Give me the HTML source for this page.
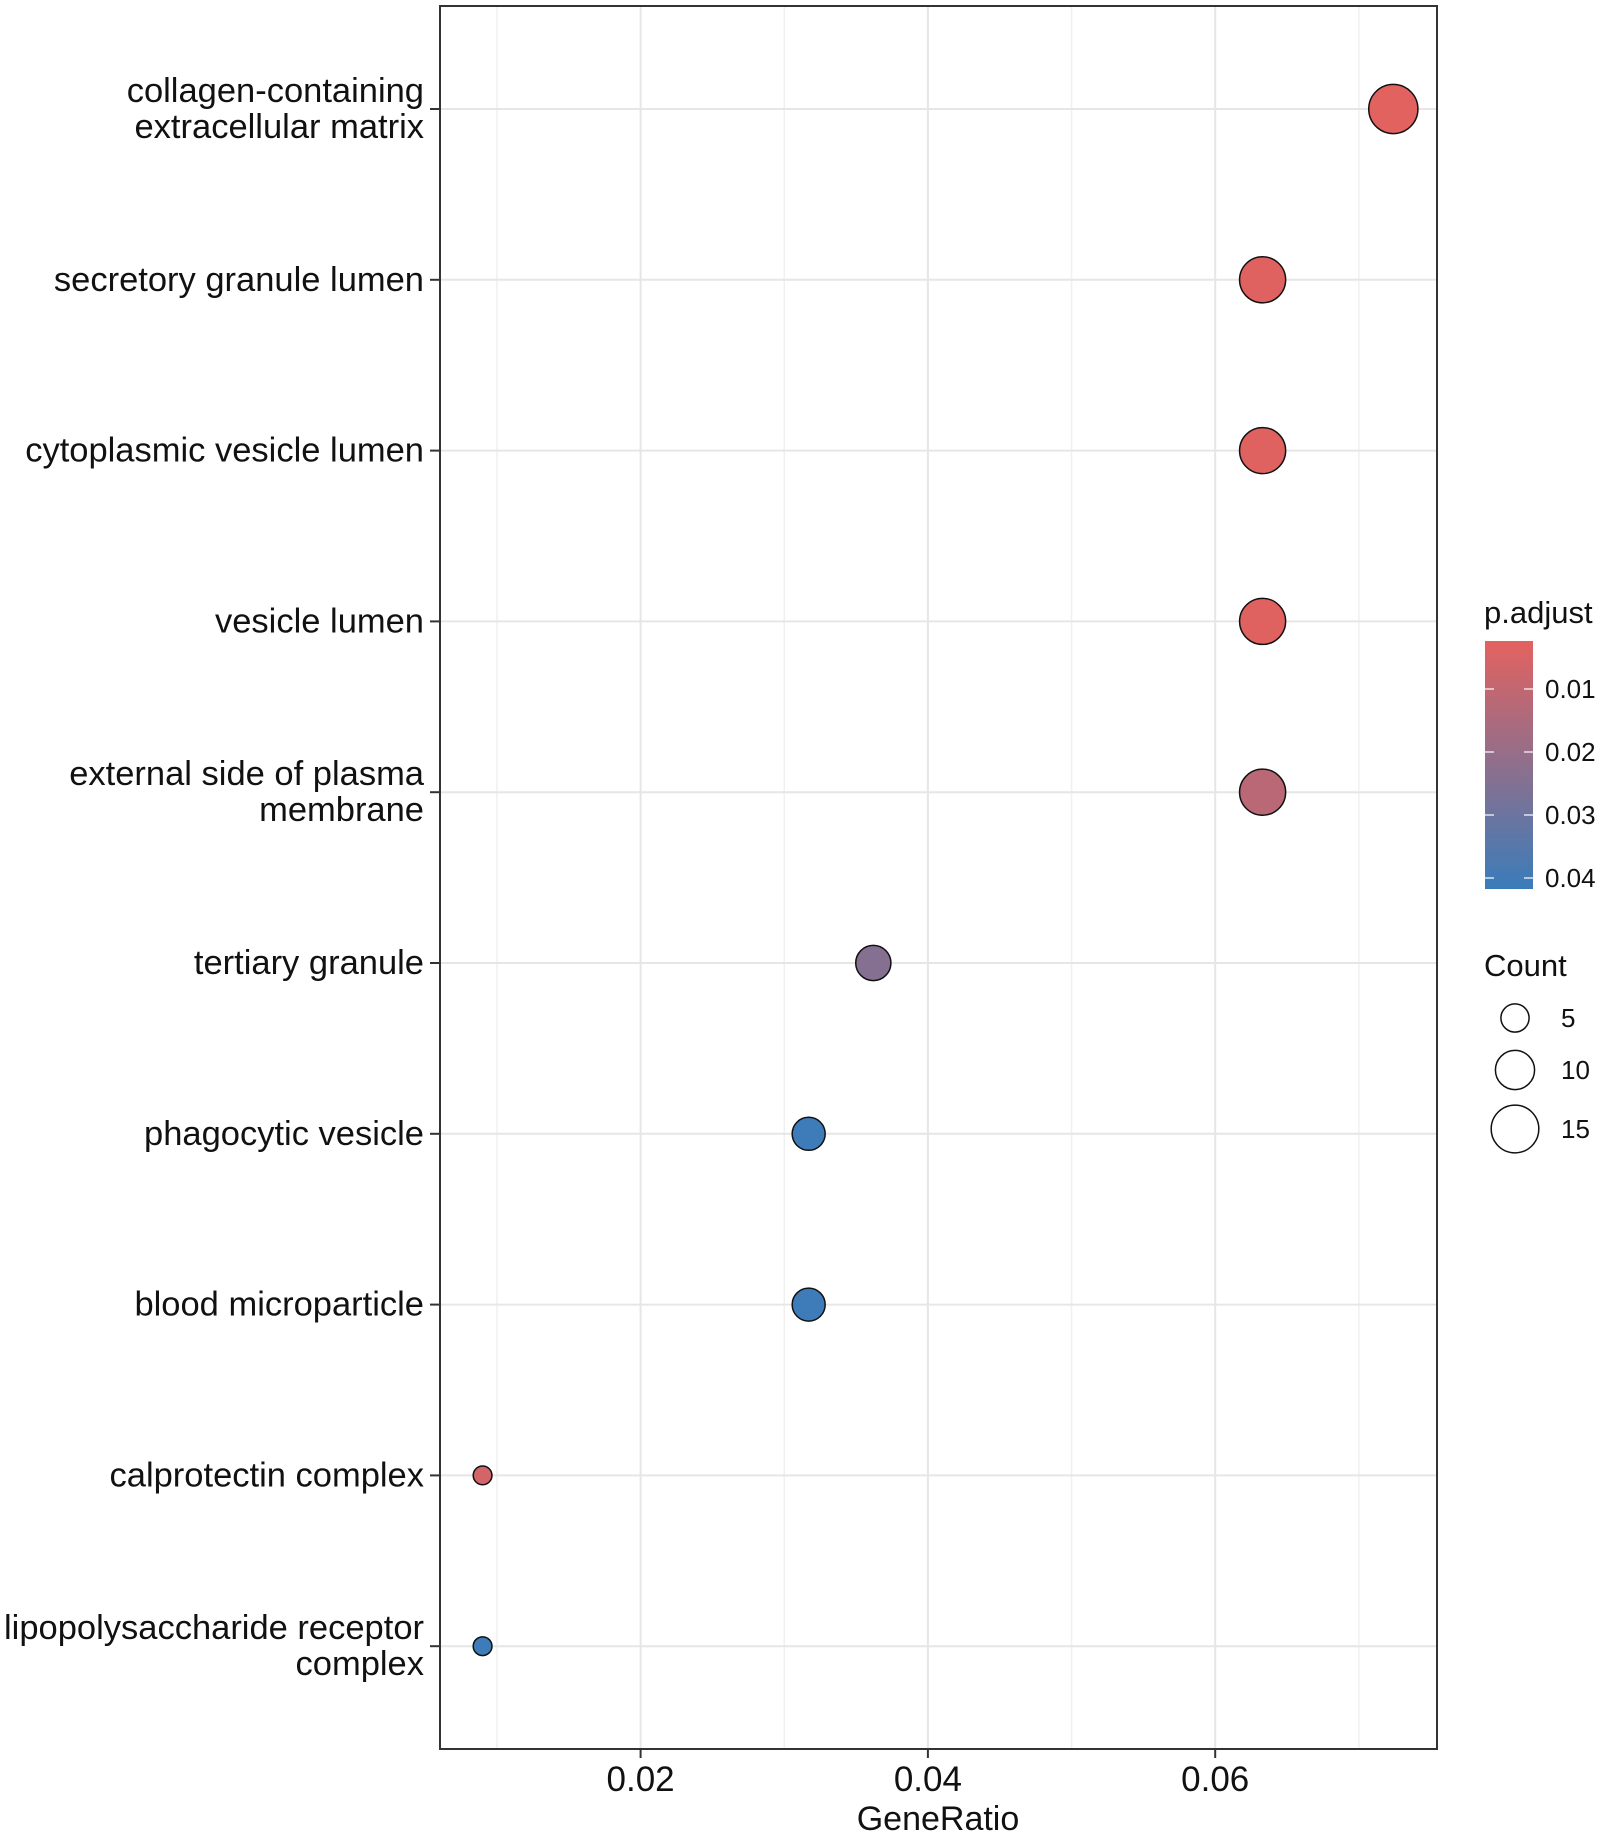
<!DOCTYPE html>
<html><head><meta charset="utf-8"><style>
body{margin:0;background:#fff}
svg{display:block;font-family:"Liberation Sans",Arial,sans-serif}
</style></head><body>
<svg id="chart" width="1600" height="1832" viewBox="0 0 1600 1832">
<defs><linearGradient id="grad" x1="0" y1="0" x2="0" y2="1">
<stop offset="0" stop-color="#E3625F"/><stop offset="1" stop-color="#3A7CBA"/></linearGradient></defs>
<g id="grid"></g><g id="labels"></g><g id="pts"></g>
<rect x="440" y="6" width="997" height="1743" fill="none" stroke="#333" stroke-width="2"/>
<g id="xaxis"></g>
<text x="938" y="1830" font-size="34" text-anchor="middle" fill="#111">GeneRatio</text>
<text x="1484" y="623" font-size="31" fill="#111">p.adjust</text>
<rect x="1485" y="641" width="48" height="248" fill="url(#grad)"/>
<g id="cleg"></g>
<text x="1484" y="976" font-size="31" fill="#111">Count</text>
<g id="sleg"></g>
</svg>
<script>
const categories=["collagen-containing|extracellular matrix","secretory granule lumen","cytoplasmic vesicle lumen","vesicle lumen","external side of plasma|membrane","tertiary granule","phagocytic vesicle","blood microparticle","calprotectin complex","lipopolysaccharide receptor|complex"];
const geneRatio=[0.0724,0.0633,0.0633,0.0633,0.0633,0.0362,0.0317,0.0317,0.0090,0.0090];
const counts=[16,14,14,14,14,8,7,7,2,2];
const pAdjust=[0.0025,0.003,0.003,0.003,0.012,0.024,0.041,0.041,0.006,0.041];
const xTicks=[0.02,0.04,0.06];
const xMinor=[0.01,0.03,0.05,0.07];
const pTicks=[0.01,0.02,0.03,0.04];
const sizeBreaks=[5,10,15];
const NS="http://www.w3.org/2000/svg";
const x=v=>640.6+(v-0.02)/0.02*287.3;
const y=i=>109+i*170.8;
const r=c=>Math.sqrt(14+36.9*c);
const py=p=>689+(p-0.01)/0.01*63;
function col(p){let t=(py(p)-641)/248;t=Math.max(0,Math.min(1,t));
const a=[0xE3,0x62,0x5F],b=[0x3A,0x7C,0xBA];
return "rgb("+a.map((v,k)=>Math.round(v+(b[k]-v)*t)).join(",")+")";}
function mk(tag,attrs,parent,txt){const e=document.createElementNS(NS,tag);for(const k in attrs)e.setAttribute(k,attrs[k]);if(txt!==undefined)e.textContent=txt;document.getElementById(parent).appendChild(e);return e;}
xMinor.forEach(v=>{const e=mk("line",{x1:x(v),x2:x(v),y1:6,y2:1749,stroke:"#f0f0f0","stroke-width":1.5},"grid");

});
xTicks.forEach(v=>{const e=mk("line",{x1:x(v),x2:x(v),y1:6,y2:1749,stroke:"#e6e6e6","stroke-width":2},"grid");


const t=mk("line",{x1:x(v),x2:x(v),y1:1749,y2:1758,stroke:"#333","stroke-width":2},"xaxis");


const l=mk("text",{x:x(v),y:1791,"font-size":35,"text-anchor":"middle",fill:"#111"},"xaxis",v.toFixed(2));

});
categories.forEach((c,i)=>{const yy=y(i);
const g=mk("line",{x1:440,x2:1437,y1:yy,y2:yy,stroke:"#e6e6e6","stroke-width":2},"grid");


const tk=mk("line",{x1:430,x2:440,y1:yy,y2:yy,stroke:"#333","stroke-width":2},"labels");


const parts=c.split("|");
parts.forEach((p,k)=>{const off=parts.length==2?(k==0?-18:18):0;
const t=mk("text",{x:424,y:yy+off+11,"font-size":34.5,"text-anchor":"end",fill:"#111"},"labels",p);

});
const d=mk("circle",{cx:x(geneRatio[i]),cy:yy,r:r(counts[i]),fill:col(pAdjust[i]),stroke:"#111","stroke-width":1.5},"pts");

});
pTicks.forEach(p=>{const yy=py(p);
[[1485,1494],[1524,1533]].forEach(s=>{const e=mk("line",{x1:s[0],x2:s[1],y1:yy,y2:yy,stroke:"#fff","stroke-width":1.5,opacity:0.8},"cleg");

});
const t=mk("text",{x:1545,y:yy+9,"font-size":26,fill:"#111"},"cleg",p.toFixed(2));

});
const sy=[1018,1070,1129];
sizeBreaks.forEach((s,i)=>{const c=mk("circle",{cx:1515,cy:sy[i],r:r(s),fill:"#fff",stroke:"#111","stroke-width":1.5},"sleg");


const t=mk("text",{x:1561,y:sy[i]+9,"font-size":26,fill:"#111"},"sleg",String(s));

});
</script>
</body></html>
